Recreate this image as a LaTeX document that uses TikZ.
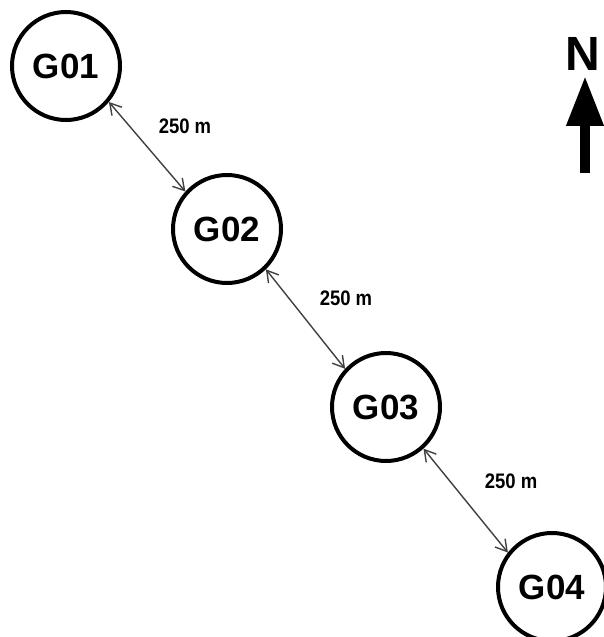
\documentclass[tikz,border=0pt]{standalone}
\usepackage{fontspec}
\setmainfont{Liberation Sans}
\usetikzlibrary{arrows.meta}

\tikzset{
	site/.style={circle,draw,line width=2pt,minimum size=54pt,inner sep=0pt,
		font=\fontsize{17.5}{20}\selectfont\bfseries},
	dist/.style={font=\fontsize{10.5}{12}\selectfont\bfseries,xscale=0.88},
	barb/.tip={Straight Barb[length=5.5pt,width=6.5pt]},
}

\begin{document}
\begin{tikzpicture}[x=0.5pt,y=-0.5pt]
		\useasboundingbox (0,0) rectangle (604,637);
		\begin{scope}
		\clip (0,0) rectangle (604,637);
		\node[site] (G01) at (66,66) {G01};
		\node[site] (G02) at (227,229) {G02};
		\node[site] (G03) at (386,407) {G03};
		\node[site] (G04) at (552,587) {G04};
		\end{scope}
		
		\node[dist] (d1) at (185,126) {250 m};
		\node[dist] (d2) at (346,298) {250 m};
		\node[dist] (d3) at (511,481) {250 m};
		%
		\path[barb-barb,line width=0.7pt,black!75]
		(G01.-40) edge (G02.138)
		(G02.-46) edge (G03.137)
		(G03.-48) edge (G04.142);
		
		% north arrow
		\node[font=\fontsize{24}{26}\selectfont\bfseries,inner sep=0pt] (N) at (583,54) {N};
		\coordinate (Nfoot) at (585,173);
		\draw[line width=5pt,-{Triangle[length=25pt,width=17.5pt]}]
		(Nfoot) -- ([yshift=-2.5pt]N.south -| Nfoot);
		
	\end{tikzpicture}
\end{document}
